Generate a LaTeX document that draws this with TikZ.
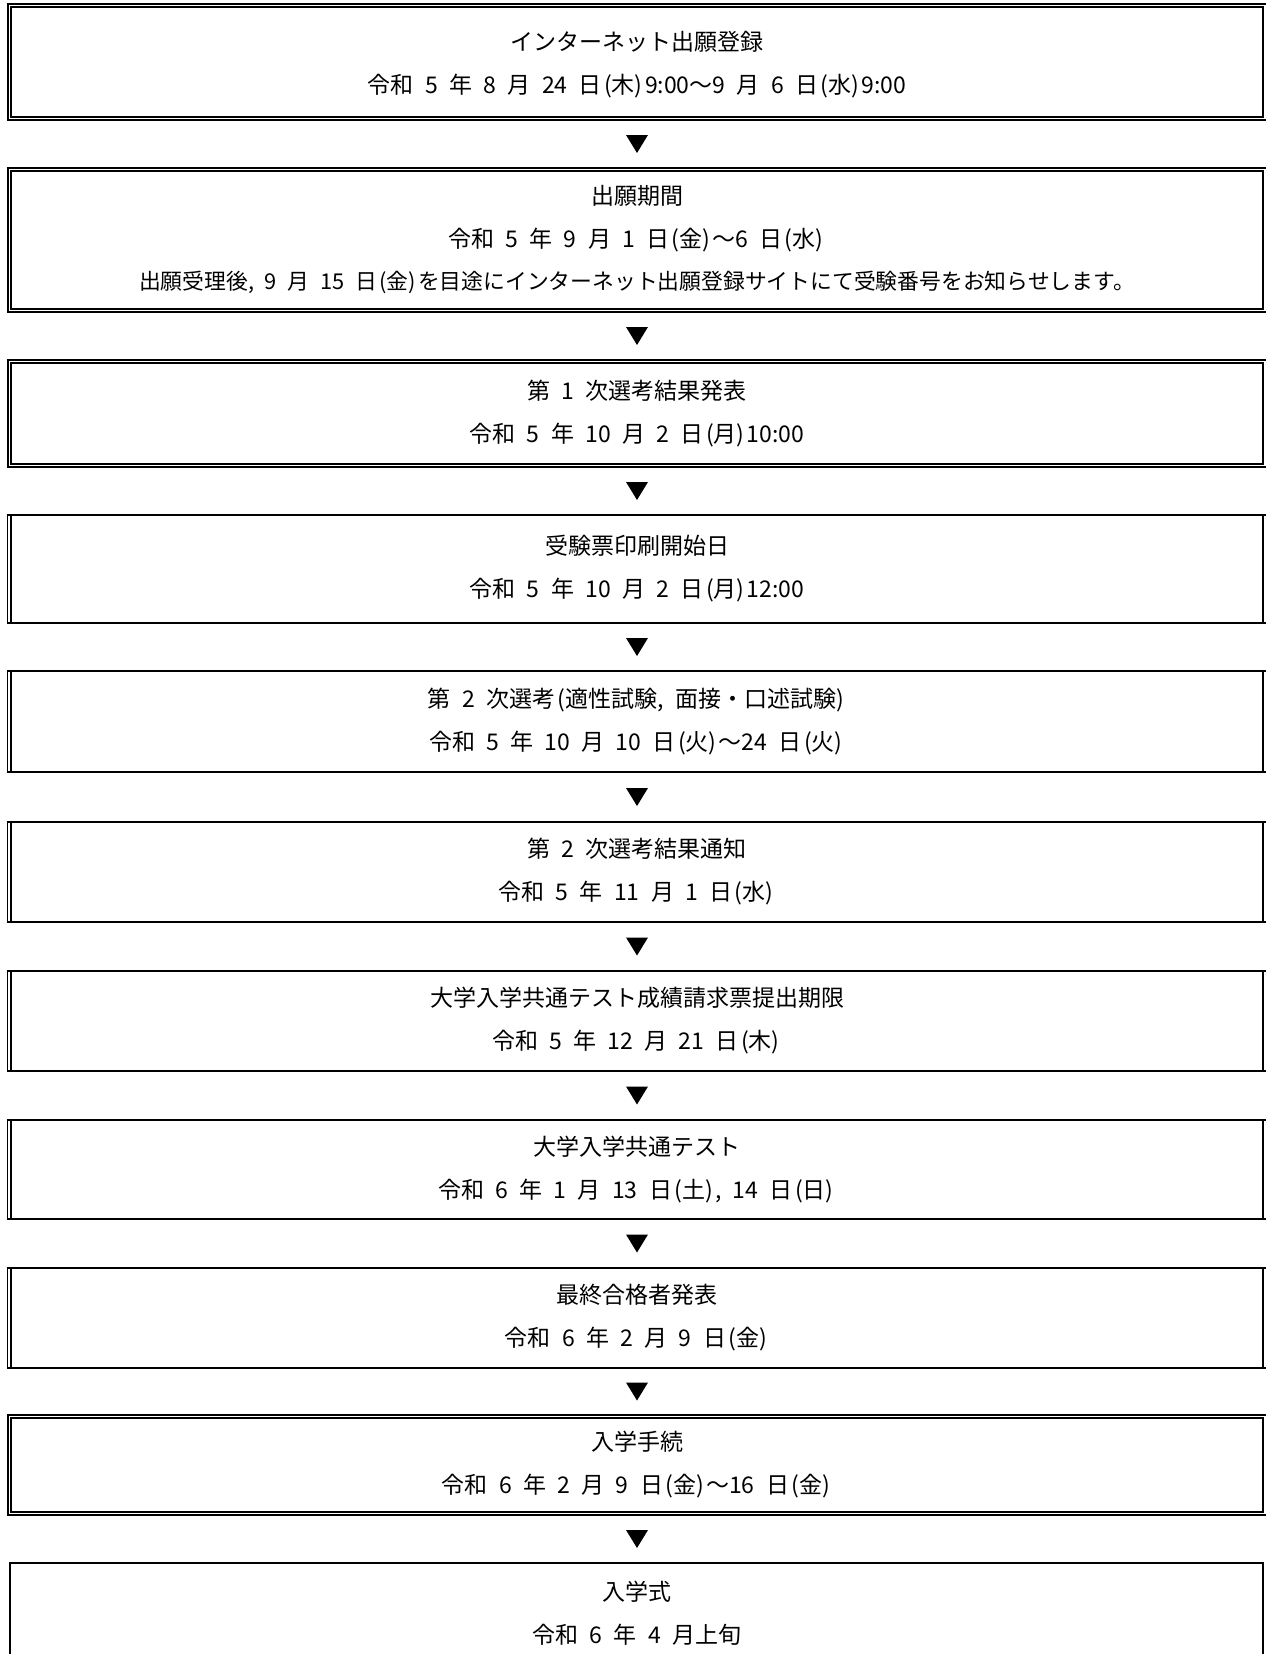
\documentclass[tikz,border=0pt]{standalone}
\usepackage{fontspec}
\newfontfamily\jp{Noto Sans CJK JP}[WordSpace=2.2]
\usetikzlibrary{calc}
\newcommand\lp{\kern.1em(}
\newcommand\rp{)\kern.1em}
\tikzset{
  stepnode/.style={rectangle, draw=none, minimum width=1252pt, inner sep=0pt, align=center,
    font=\jp\fontsize{23}{43}\selectfont},
  thickline/.style={line width=2.2pt},
  thinline/.style={line width=1.4pt},
  innerline/.style={line width=1.8pt},
}
\newcommand\fulldouble[1]{%
  \draw[thickline] ($(#1.north west)+(-4.3,0)$) -- ($(#1.north east)+(3,0)$);
  \draw[thickline] ($(#1.north west)+(-3.2,0)$) -- ($(#1.south west)+(-3.2,0)$);
  \draw[thickline] ($(#1.south west)+(-4.3,0)$) -- ($(#1.south east)+(3,0)$);
  \draw[innerline] ($(#1.north west)+(0,3.2)$) rectangle ($(#1.south east)+(0,-3.2)$);
}
\newcommand\leftdouble[1]{%
  \draw[thickline] ($(#1.north west)+(-4.3,0)$) -- ($(#1.north east)+(3,0)$);
  \draw[thickline] ($(#1.south west)+(-4.3,0)$) -- ($(#1.south east)+(3,0)$);
  \draw[thinline] ($(#1.north west)+(-3.2,0)$) -- ($(#1.south west)+(-3.2,0)$);
  \draw[thinline] (#1.north west) -- (#1.south west);
  \draw[thickline] (#1.north east) -- (#1.south east);
}
\newcommand\downmark[3]{%
  \path (#1.south) -- (#2.north) coordinate[midway] (#3);
  \fill ($(#3)+(-11,-9)$) -- ($(#3)+(11,-9)$) -- ($(#3)+(0,9)$) -- cycle;
}
\begin{document}
\begin{tikzpicture}[x=1pt,y=-1pt]
\useasboundingbox (0,0) rectangle (1266,1654);
\clip (0,0) rectangle (1266,1654);

\node[stepnode, minimum height=116pt, text depth=0pt] (b1) at (637,62)
  {インターネット出願登録\\令和 5 年 8 月 24 日\lp 木\rp 9:00～9 月 6 日\lp 水\rp 9:00};
\node[stepnode, minimum height=144pt, font=\jp\fontsize{23}{42.5}\selectfont] (b2) at (637,240)
  {出願期間\\令和 5 年 9 月 1 日\lp 金\rp～6 日\lp 水\rp\\{\fontsize{21.8}{42.5}\selectfont 出願受理後, 9 月 15 日\lp 金\rp を目途にインターネット出願登録サイトにて受験番号をお知らせします。}};
\node[stepnode, minimum height=107pt] (b3) at (637,413.5)
  {第 1 次選考結果発表\\令和 5 年 10 月 2 日\lp 月\rp 10:00};
\node[stepnode, minimum height=108pt] (b4) at (637,569)
  {受験票印刷開始日\\令和 5 年 10 月 2 日\lp 月\rp 12:00};
\node[stepnode, minimum height=101pt] (b5) at (637,721.5)
  {第 2 次選考\lp 適性試験, 面接・口述試験\rp\\令和 5 年 10 月 10 日\lp 火\rp～24 日\lp 火\rp};
\node[stepnode, minimum height=100pt] (b6) at (637,872)
  {第 2 次選考結果通知\\令和 5 年 11 月 1 日\lp 水\rp};
\node[stepnode, minimum height=100pt] (b7) at (637,1021)
  {大学入学共通テスト成績請求票提出期限\\令和 5 年 12 月 21 日\lp 木\rp};
\node[stepnode, minimum height=99pt] (b8) at (637,1169.5)
  {大学入学共通テスト\\令和 6 年 1 月 13 日\lp 土\rp, 14 日\lp 日\rp};
\node[stepnode, minimum height=100pt] (b9) at (637,1318)
  {最終合格者発表\\令和 6 年 2 月 9 日\lp 金\rp};
\node[stepnode, minimum height=100pt] (b10) at (637,1465)
  {入学手続\\令和 6 年 2 月 9 日\lp 金\rp～16 日\lp 金\rp};
\node[stepnode, minimum height=100pt] (b11) at (637,1613)
  {入学式\\令和 6 年 4 月上旬};

\fulldouble{b1}
\fulldouble{b2}
\fulldouble{b3}
\leftdouble{b4}
\leftdouble{b5}
\leftdouble{b6}
\leftdouble{b7}
\leftdouble{b8}
\leftdouble{b9}
\fulldouble{b10}
\draw[thickline] ($(b11.south west)+(-1,60)$) -- ($(b11.north west)+(-1,0)$) -- (b11.north east) -- ($(b11.south east)+(0,60)$);

\downmark{b1}{b2}{m1}
\downmark{b2}{b3}{m2}
\downmark{b3}{b4}{m3}
\downmark{b4}{b5}{m4}
\downmark{b5}{b6}{m5}
\downmark{b6}{b7}{m6}
\downmark{b7}{b8}{m7}
\downmark{b8}{b9}{m8}
\downmark{b9}{b10}{m9}
\downmark{b10}{b11}{m10}
\end{tikzpicture}
\end{document}
